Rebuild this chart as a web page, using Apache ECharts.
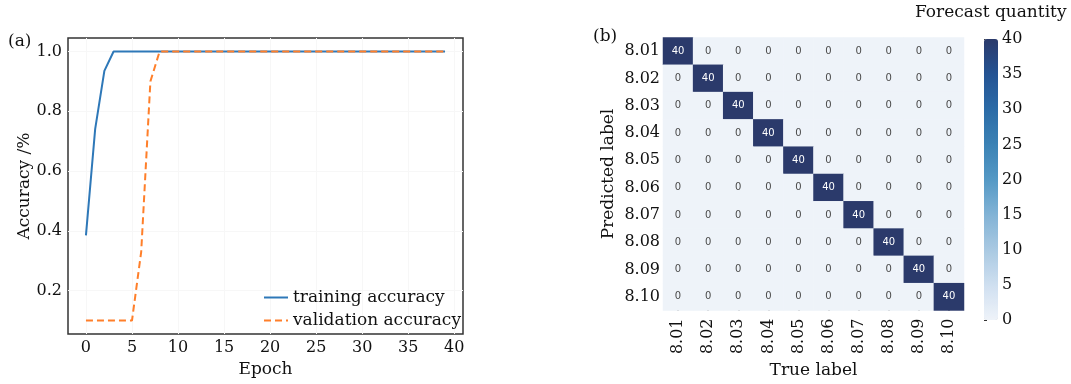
<!DOCTYPE html>
<html><head><meta charset="utf-8">
<script src="https://cdn.jsdelivr.net/npm/echarts@6/dist/echarts.min.js"></script>
<style>html,body{margin:0;padding:0;background:#fff}#c{width:1071px;height:384px}</style>
</head><body><div id="c"></div>
<script>
const epochs = [0,1,2,3,4,5,6,7,8,9,10,11,12,13,14,15,16,17,18,19,20,21,22,23,24,25,26,27,28,29,30,31,32,33,34,35,36,37,38,39];
const trainingAccuracy = [0.385,0.74,0.935,1.0,1.0,1.0,1.0,1.0,1.0,1.0,1.0,1.0,1.0,1.0,1.0,1.0,1.0,1.0,1.0,1.0,1.0,1.0,1.0,1.0,1.0,1.0,1.0,1.0,1.0,1.0,1.0,1.0,1.0,1.0,1.0,1.0,1.0,1.0,1.0,1.0];
const validationAccuracy = [0.1,0.1,0.1,0.1,0.1,0.1,0.33,0.9,1.0,1.0,1.0,1.0,1.0,1.0,1.0,1.0,1.0,1.0,1.0,1.0,1.0,1.0,1.0,1.0,1.0,1.0,1.0,1.0,1.0,1.0,1.0,1.0,1.0,1.0,1.0,1.0,1.0,1.0,1.0,1.0];
const epochTicks = [0,5,10,15,20,25,30,35,40];
const accuracyTicks = [0.2,0.4,0.6,0.8,1.0];
const trueLabels = ['8.01','8.02','8.03','8.04','8.05','8.06','8.07','8.08','8.09','8.10'];
const predictedLabels = ['8.01','8.02','8.03','8.04','8.05','8.06','8.07','8.08','8.09','8.10'];
// rows: predicted label, columns: true label
const confusion = [
  [40,0,0,0,0,0,0,0,0,0],
  [0,40,0,0,0,0,0,0,0,0],
  [0,0,40,0,0,0,0,0,0,0],
  [0,0,0,40,0,0,0,0,0,0],
  [0,0,0,0,40,0,0,0,0,0],
  [0,0,0,0,0,40,0,0,0,0],
  [0,0,0,0,0,0,40,0,0,0],
  [0,0,0,0,0,0,0,40,0,0],
  [0,0,0,0,0,0,0,0,40,0],
  [0,0,0,0,0,0,0,0,0,40]
];
const colorbarMin = 0, colorbarMax = 40, colorbarStep = 5;

const SERIF = 'DejaVu Serif';
const chart = echarts.init(document.getElementById('c'), null, {renderer:'canvas'});

const trainData = epochs.map((e,i)=>[e, trainingAccuracy[i]]);
const valData = epochs.map((e,i)=>[e, validationAccuracy[i]]);
const heatData = [];
confusion.forEach((row, r)=>row.forEach((v, c)=>{
  heatData.push({value:[c, r, v], label:{color: v > 20 ? '#ffffff' : '#4a4a4a'}});
}));

const option = {
  backgroundColor:'#ffffff',
  animation:false,
  grid:[
    {left:68, top:38, width:395, height:296, show:true, borderColor:'#333', borderWidth:1.5, backgroundColor:'transparent'},
    {left:663, top:37.5, width:301, height:280},
    {left:984, top:39, width:14, height:281}
  ],
  xAxis:[
    {type:'value', gridIndex:0, min:-1.95, max:40.95,
     axisLine:{show:false}, axisTick:{show:false, customValues:epochTicks},
     axisLabel:{customValues:epochTicks, fontFamily:SERIF, fontSize:16, color:'#111', margin:6},
     splitLine:{show:true, lineStyle:{color:'#f7f7f7', width:1}},
     name:'Epoch', nameLocation:'middle', nameGap:27, nameTextStyle:{fontFamily:SERIF, fontSize:17, color:'#111'}},
    {type:'category', gridIndex:1, data:trueLabels, position:'bottom',
     axisLine:{show:false}, axisTick:{show:true, inside:true, length:10, alignWithLabel:true, lineStyle:{color:'#222', width:1.5}},
     axisLabel:{rotate:90, fontFamily:SERIF, fontSize:16, color:'#111', margin:8},
     splitLine:{show:false}, splitArea:{show:false},
     name:'True label', nameLocation:'middle', nameGap:49, nameTextStyle:{fontFamily:SERIF, fontSize:17, color:'#111'}},
    {type:'value', gridIndex:2, min:0, max:1, show:false}
  ],
  yAxis:[
    {type:'value', gridIndex:0, min:0.055, max:1.045,
     axisLine:{show:false}, axisTick:{show:false, customValues:accuracyTicks},
     axisLabel:{customValues:accuracyTicks, formatter:v=>v.toFixed(1), fontFamily:SERIF, fontSize:16, color:'#111', margin:6},
     splitLine:{show:true, lineStyle:{color:'#f7f7f7', width:1}},
     name:'Accuracy /%', nameLocation:'middle', nameGap:34, nameTextStyle:{fontFamily:SERIF, fontSize:17, color:'#111'}},
    {type:'category', gridIndex:1, data:predictedLabels, inverse:true,
     axisLine:{show:false}, axisTick:{show:true, inside:true, length:8, alignWithLabel:true, lineStyle:{color:'#222', width:1.5}},
     axisLabel:{fontFamily:SERIF, fontSize:16, color:'#111', margin:3},
     splitLine:{show:false}, splitArea:{show:false},
     name:'Predicted label', nameLocation:'middle', nameGap:46, nameTextStyle:{fontFamily:SERIF, fontSize:17, color:'#111'}},
    {type:'value', gridIndex:2, position:'right', min:colorbarMin, max:colorbarMax, interval:colorbarStep,
     axisLine:{show:false}, axisTick:{show:true, length:3, lineStyle:{color:'#333', width:1}},
     axisLabel:{fontFamily:SERIF, fontSize:16, color:'#111', margin:4},
     splitLine:{show:false}}
  ],
  visualMap:{
    type:'continuous', min:colorbarMin, max:colorbarMax, seriesIndex:2, calculable:false,
    orient:'vertical', left:984, top:39, itemWidth:14, itemHeight:281, padding:0,
    text:null, showLabel:false, hoverLink:false,
    inRange:{color:['#eef3f9','#cfdff0','#a9c9e2','#82b3d6','#5499c5','#3b82b5','#2b6ba7','#245393','#2b3a6b']}
  },
  legend:{
    orient:'vertical', left:258, top:284, itemWidth:24, itemHeight:14, itemGap:6,
    itemStyle:{opacity:0},
    textStyle:{fontFamily:SERIF, fontSize:17, color:'#111'},
    data:['training accuracy','validation accuracy']
  },
  series:[
    {name:'training accuracy', type:'line', xAxisIndex:0, yAxisIndex:0, data:trainData, showSymbol:false, symbol:'none',
     lineStyle:{color:'#2e78b8', width:2}, itemStyle:{color:'#2e78b8'}, z:2},
    {name:'validation accuracy', type:'line', xAxisIndex:0, yAxisIndex:0, data:valData, showSymbol:false, symbol:'none',
     lineStyle:{color:'#ff7f2a', width:2, type:[7,4]}, itemStyle:{color:'#ff7f2a'}, z:3},
    {name:'confusion', type:'heatmap', xAxisIndex:1, yAxisIndex:1, data:heatData,
     label:{show:true, fontFamily:'DejaVu Sans', fontSize:10},
     itemStyle:{borderWidth:0},
     emphasis:{disabled:true}}
  ],
  graphic:[
    {type:'text', left:8, top:33, style:{text:'(a)', font:'17px "DejaVu Serif"', fill:'#111'}},
    {type:'text', left:593, top:28, style:{text:'(b)', font:'17px "DejaVu Serif"', fill:'#111'}},
    {type:'text', left:915, top:4, style:{text:'Forecast quantity', font:'17px "DejaVu Serif"', fill:'#111'}}
  ]
};
chart.setOption(option);
</script>
</body></html>
